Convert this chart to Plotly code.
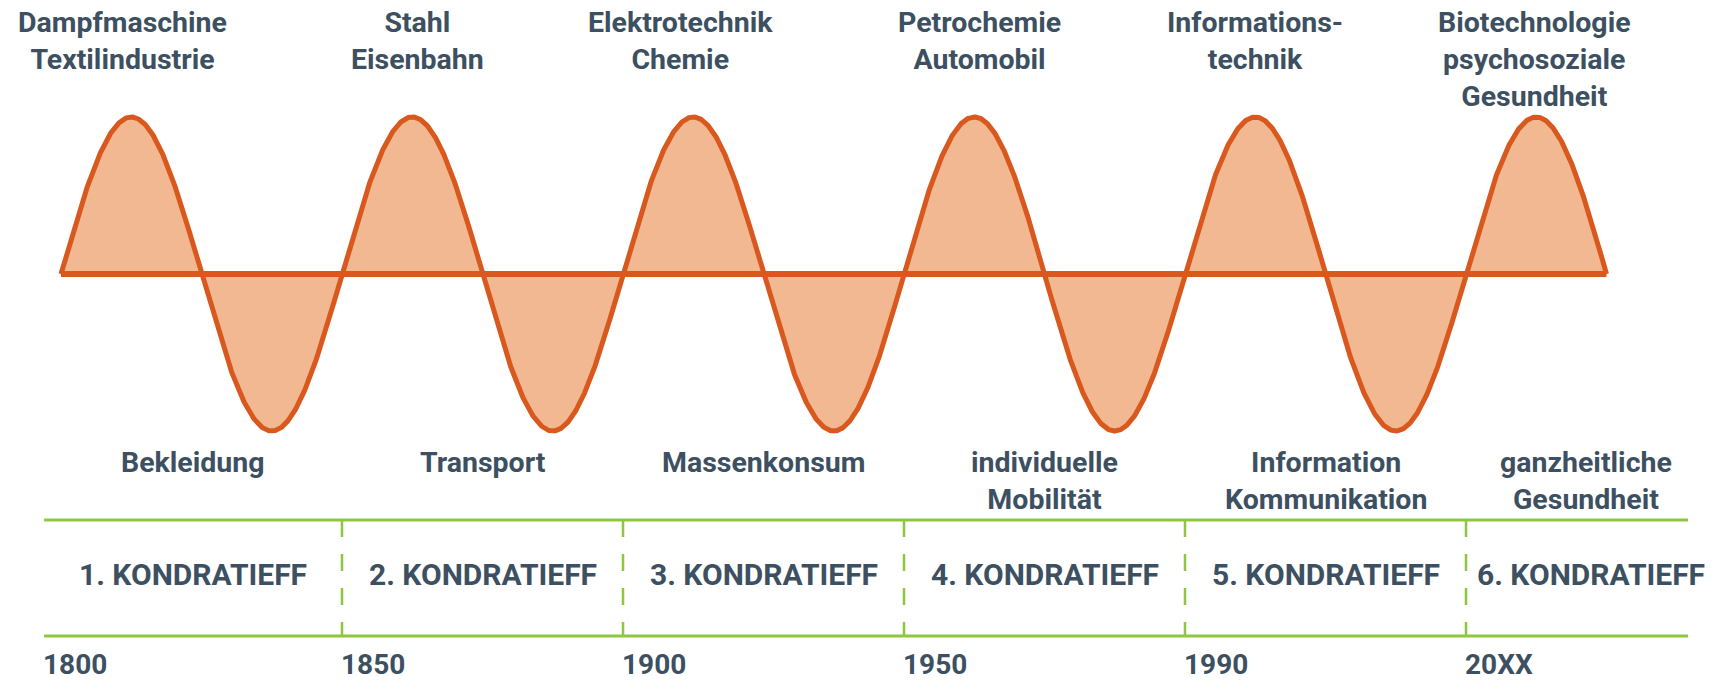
import numpy as np
import plotly.graph_objects as go

# ---------------- data ----------------
top_labels = [
    "Dampfmaschine<br>Textilindustrie",
    "Stahl<br>Eisenbahn",
    "Elektrotechnik<br>Chemie",
    "Petrochemie<br>Automobil",
    "Informations-<br>technik",
    "Biotechnologie<br>psychosoziale<br>Gesundheit",
]
bottom_labels = [
    "Bekleidung",
    "Transport",
    "Massenkonsum",
    "individuelle<br>Mobilität",
    "Information<br>Kommunikation",
    "ganzheitliche<br>Gesundheit",
]
cycle_names = [
    "1. KONDRATIEFF",
    "2. KONDRATIEFF",
    "3. KONDRATIEFF",
    "4. KONDRATIEFF",
    "5. KONDRATIEFF",
    "6. KONDRATIEFF",
]
year_labels = ["1800", "1850", "1900", "1950", "1990", "20XX"]
n_cycles = 5.5  # number of drawn wave periods

# ---------------- styling / layout helpers ----------------
W, H = 1727, 683
TEXT = "#3d5061"
ORANGE = "#d9581e"
PEACH = "#f2b891"
GREEN = "#8dc63f"
FONT = "Roboto"

top_xshift = [-9, 5, -13, 5, 0, -2]
bottom_xshift = [0, 0, 0, 0, 0, 9]
name_xshift = [0, 0, 0, 0, 0, 14]

box_left = -0.06
box_right = 5.79
band_top = -1.567
band_bottom = -2.306

fig = go.Figure()

# wave (schematic shape of the long waves)
t = np.linspace(0, n_cycles, 3000)
wave = np.sin(2 * np.pi * t)
fig.add_trace(go.Scatter(
    x=t, y=wave, mode="lines", fill="tozeroy", fillcolor=PEACH,
    line=dict(color=ORANGE, width=5), hoverinfo="skip", showlegend=False,
))
# baseline
fig.add_trace(go.Scatter(
    x=[0, n_cycles], y=[0, 0], mode="lines",
    line=dict(color=ORANGE, width=6), hoverinfo="skip", showlegend=False,
))

# green band lines
for yv in (band_top, band_bottom):
    fig.add_trace(go.Scatter(
        x=[box_left, box_right], y=[yv, yv], mode="lines",
        line=dict(color=GREEN, width=3), hoverinfo="skip", showlegend=False,
    ))
# dashed dividers
n = len(cycle_names)
edges = [box_left] + list(range(1, n)) + [box_right]
for e in edges[1:-1]:
    fig.add_trace(go.Scatter(
        x=[e, e], y=[band_top, band_bottom], mode="lines",
        line=dict(color=GREEN, width=2.5, dash="17px,17px"),
        hoverinfo="skip", showlegend=False,
    ))

# annotations
for i, lab in enumerate(top_labels):
    fig.add_annotation(
        x=i + 0.25, y=1.72, text=lab, showarrow=False,
        xanchor="center", yanchor="top", xshift=top_xshift[i],
        font=dict(family=FONT, size=28.5, color=TEXT, weight="bold"),
    )
for i, lab in enumerate(bottom_labels):
    cx = (edges[i] + edges[i + 1]) / 2
    fig.add_annotation(
        x=cx, y=-1.083, text=lab, showarrow=False,
        xanchor="center", yanchor="top", xshift=bottom_xshift[i],
        font=dict(family=FONT, size=28.5, color=TEXT, weight="bold"),
    )
for i, lab in enumerate(cycle_names):
    cx = (edges[i] + edges[i + 1]) / 2
    fig.add_annotation(
        x=cx, y=-1.911, text=lab, showarrow=False,
        xanchor="center", yanchor="middle", xshift=name_xshift[i],
        font=dict(family=FONT, size=30, color=TEXT, weight="bold"),
    )
for i, lab in enumerate(year_labels):
    fig.add_annotation(
        x=edges[i], y=-2.49, text=lab, showarrow=False,
        xanchor="left", yanchor="middle", xshift=-2, borderpad=0,
        font=dict(family=FONT, size=28, color=TEXT, weight="bold"),
    )

fig.update_layout(
    width=W, height=H,
    margin=dict(l=0, r=0, t=0, b=0),
    paper_bgcolor="white", plot_bgcolor="white",
    xaxis=dict(range=[-61 / 281, (W - 61) / 281], visible=False, fixedrange=True),
    yaxis=dict(range=[-2.605, 1.745], visible=False, fixedrange=True),
    showlegend=False,
)

fig.write_html(
    "out.html",
    config={"displayModeBar": False},
    post_script="document.body.style.margin='0';document.body.style.overflow='hidden';",
)
